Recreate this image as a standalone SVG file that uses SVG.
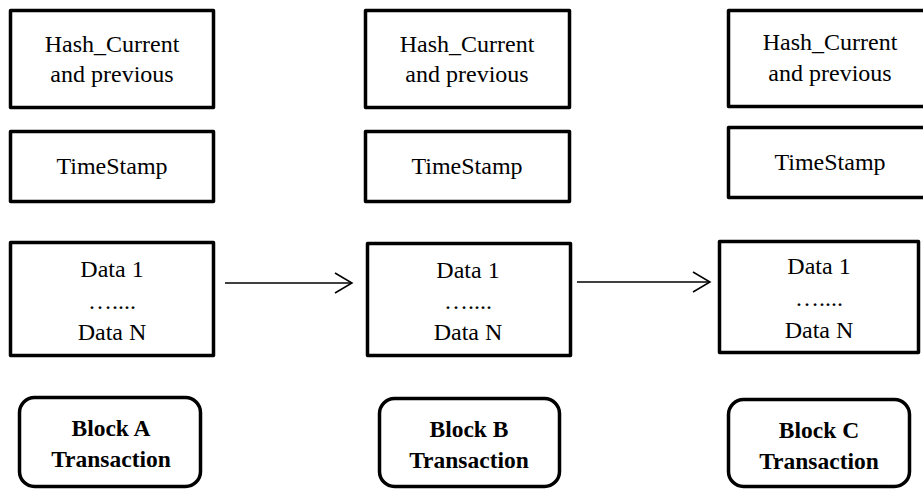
<svg xmlns="http://www.w3.org/2000/svg" width="923" height="489" viewBox="0 0 923 489">
<defs>
<style>
.box{fill:#fff;stroke:#000;stroke-width:3.5;stroke-linejoin:round}
.t{font-family:"Liberation Serif","Times New Roman",serif;font-size:24px;fill:#000;text-anchor:middle}
.b{font-family:"Liberation Serif","Times New Roman",serif;font-size:23.5px;font-weight:bold;fill:#000;text-anchor:middle}
.conn{fill:none;stroke:#000;stroke-width:1.5}
</style>
<marker id="arr" markerWidth="20" markerHeight="24" refX="18" refY="11" orient="auto" markerUnits="userSpaceOnUse">
<path d="M1,1 L18,11 L1,21" fill="none" stroke="#000" stroke-width="1.5"/>
</marker>
</defs>
<rect width="923" height="489" fill="#fff"/>
<g id="hashA"><rect class="box" x="10.5" y="10.5" width="203" height="97"/><text class="t" x="112" y="52">Hash_Current</text><text class="t" x="112" y="82">and previous</text></g>
<g id="timeA"><rect class="box" x="10.5" y="131.5" width="203" height="70"/><text class="t" x="112" y="174">TimeStamp</text></g>
<g id="dataA"><rect class="box" x="10.5" y="242.5" width="203" height="113"/><text class="t" x="112" y="277">Data 1</text><text class="t" x="112" y="309">…....</text><text class="t" x="112" y="340">Data N</text></g>
<g id="blockA"><rect class="box" x="19.5" y="397.5" width="181" height="89" rx="15"/><text class="b" x="111" y="436">Block A</text><text class="b" x="111" y="467">Transaction</text></g>
<g id="hashB"><rect class="box" x="365.5" y="10.5" width="204" height="97"/><text class="t" x="467" y="52">Hash_Current</text><text class="t" x="467" y="82">and previous</text></g>
<g id="timeB"><rect class="box" x="365.5" y="131.5" width="204" height="70"/><text class="t" x="467" y="174">TimeStamp</text></g>
<g id="dataB"><rect class="box" x="367.5" y="243.5" width="203" height="112"/><text class="t" x="468" y="278">Data 1</text><text class="t" x="468" y="309">…....</text><text class="t" x="468" y="340">Data N</text></g>
<g id="blockB"><rect class="box" x="379.5" y="398.5" width="180" height="88" rx="15"/><text class="b" x="469" y="437">Block B</text><text class="b" x="469" y="468">Transaction</text></g>
<g id="hashC"><rect class="box" x="728.5" y="10.5" width="205" height="96"/><text class="t" x="830" y="50">Hash_Current</text><text class="t" x="830" y="81">and previous</text></g>
<g id="timeC"><rect class="box" x="728.5" y="127.5" width="205" height="70"/><text class="t" x="830" y="170">TimeStamp</text></g>
<g id="dataC"><rect class="box" x="719.5" y="241.5" width="199" height="111"/><text class="t" x="819" y="274">Data 1</text><text class="t" x="819" y="306">…....</text><text class="t" x="819" y="338">Data N</text></g>
<g id="blockC"><rect class="box" x="728.5" y="399.5" width="181" height="87" rx="15"/><text class="b" x="819" y="438">Block C</text><text class="b" x="819" y="469">Transaction</text></g>
<g id="connectors">
<line class="conn" x1="225" y1="283" x2="352" y2="283" marker-end="url(#arr)"/>
<line class="conn" x1="577" y1="282" x2="710" y2="282" marker-end="url(#arr)"/>
</g>
</svg>
